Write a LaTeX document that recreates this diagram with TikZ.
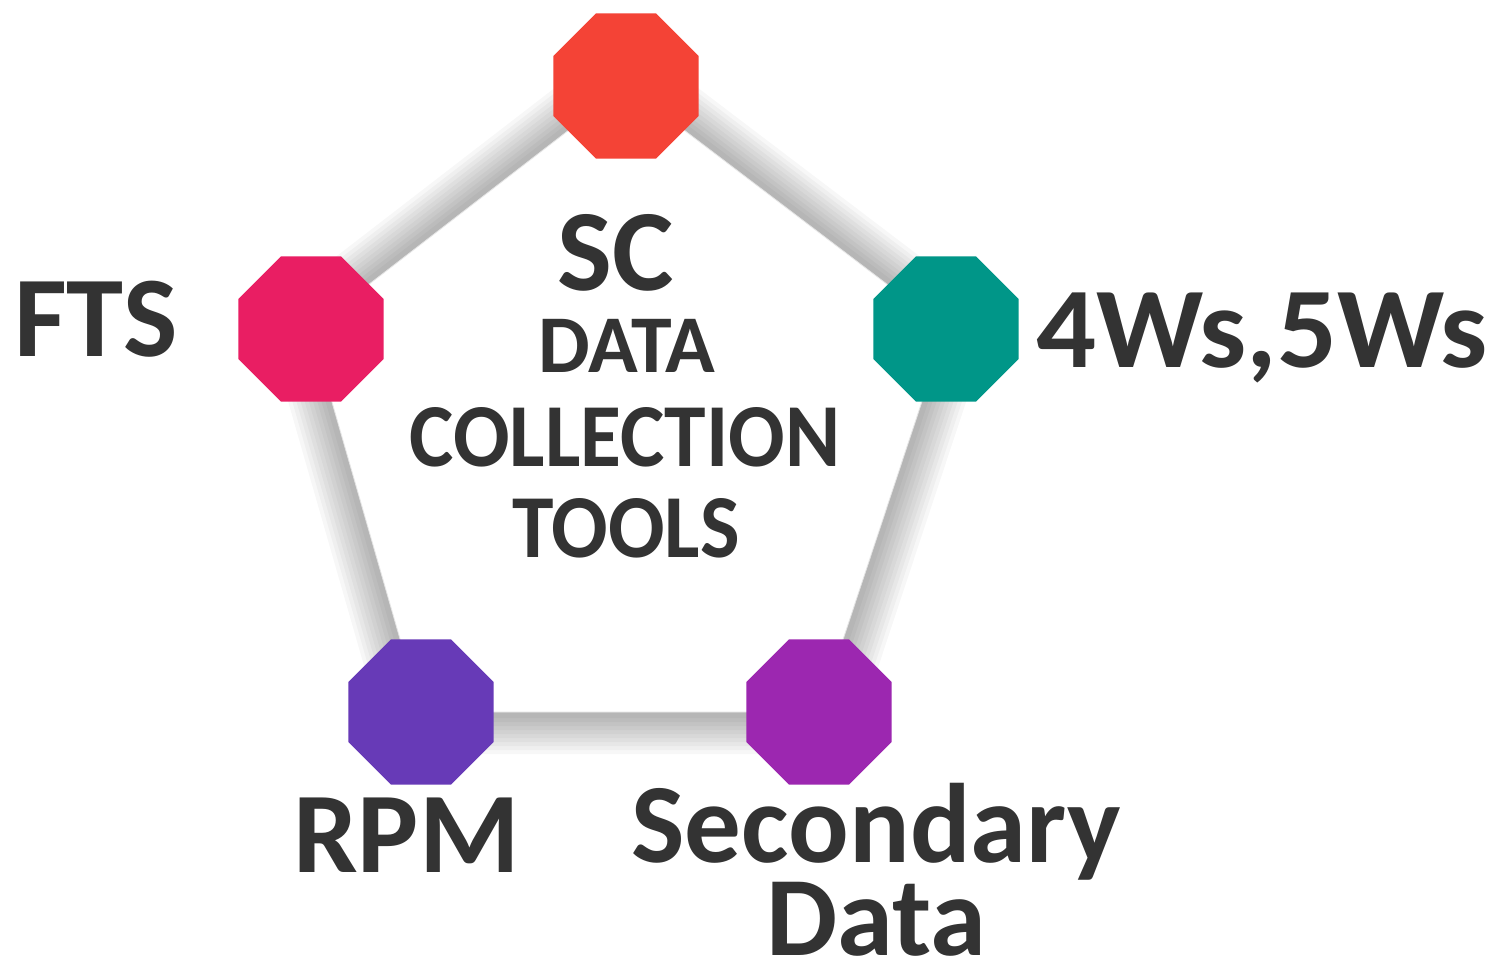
\documentclass[tikz,border=0pt]{standalone}
\usepackage{fontspec}
\setmainfont{Carlito}
\usetikzlibrary{shapes.geometric}
\definecolor{txt}{HTML}{333333}
\definecolor{cred}{HTML}{F44336}
\definecolor{cpink}{HTML}{E91E63}
\definecolor{cteal}{HTML}{009688}
\definecolor{cindigo}{HTML}{673AB7}
\definecolor{cpurple}{HTML}{9C27B0}
\tikzset{
  oct/.style={regular polygon, regular polygon sides=8, minimum size=157pt,
    inner sep=0pt, outer sep=0pt, draw=none, fill=#1},
  lbl/.style={text=txt, font=\bfseries\fontsize{115}{115}\selectfont, inner sep=0pt},
  ctr/.style={text=txt, font=\bfseries, inner sep=0pt},
}
\begin{document}
\begin{tikzpicture}[x=1pt,y=-1pt]
\useasboundingbox (0,0) rectangle (1495,967);
\fill[white] (0,0) rectangle (1495,967);
% vertices
\coordinate (pt) at (626,86);
\coordinate (pl) at (311,329);
\coordinate (pr) at (946,329);
\coordinate (pbl) at (421,712);
\coordinate (pbr) at (819,712);
% shadow
\foreach \w in {84,76,68,60,52,44,36,28,20,12}{
  \draw[black, opacity=0.03, line width=\w pt, line join=round]
    (pt) -- (pr) -- (pbr) -- (pbl) -- (pl) -- cycle;
}
\fill[white] (pt) -- (pr) -- (pbr) -- (pbl) -- (pl) -- cycle;
\draw[black!10, line width=0.8pt, line join=round] (pt) -- (pr) -- (pbr) -- (pbl) -- (pl) -- cycle;
% octagons
\node[oct=cred] (top) at (pt) {};
\node[oct=cpink] (fts) at (pl) {};
\node[oct=cteal] (ws) at (pr) {};
\node[oct=cindigo] (rpm) at (pbl) {};
\node[oct=cpurple] (sec) at (pbr) {};
% center text
\node[ctr, font=\bfseries\fontsize{116}{116}\selectfont, anchor=base] (sc) at (616,290) {SC};
\node[ctr, font=\bfseries\fontsize{82}{82}\selectfont, anchor=base] (data) at (627,372) {DATA};
\node[ctr, font=\bfseries\fontsize{90}{90}\selectfont, anchor=base] (coll) at (625,466) {\scalebox{0.93}[1]{COLLECTION}};
\node[ctr, font=\bfseries\fontsize{90}{90}\selectfont, anchor=base] (tools) at (626,557) {\scalebox{0.93}[1]{TOOLS}};
% labels
\node[lbl, anchor=base west] (lfts) at (14,356) {FTS};
\node[lbl, anchor=base west] (lws) at (1036,367) {\scalebox{1.03}[1]{4Ws,5Ws}};
\node[lbl, anchor=base west] (lrpm) at (293,872) {RPM};
\node[lbl, font=\bfseries\fontsize{113}{89}\selectfont, align=center, anchor=base] (lsec) at (876,955) {Secondary\\Data};
\end{tikzpicture}
\end{document}
